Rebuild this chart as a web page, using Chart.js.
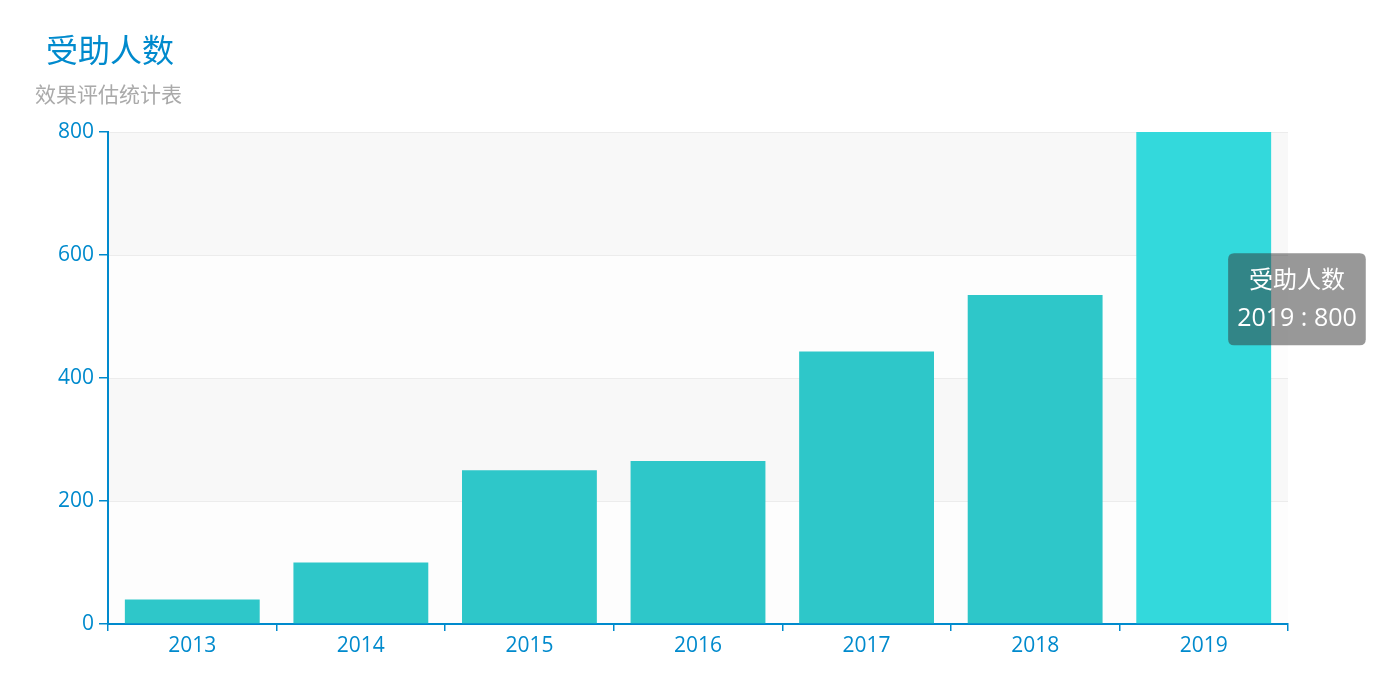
<!DOCTYPE html>
<html>
<head>
<meta charset="utf-8">
<script src="https://cdn.jsdelivr.net/npm/chart.js@4/dist/chart.umd.min.js"></script>
<style>
  html, body { margin: 0; padding: 0; background: #ffffff; }
  #wrap { position: relative; width: 1400px; height: 698px; }
  #title { position: absolute; left: 46px; top: 26px; font: 32px "Noto Sans CJK SC", sans-serif; color: #008acd; line-height: 44px; white-space: nowrap; }
  #subtitle { position: absolute; left: 35px; top: 79px; font: 21px "Noto Sans CJK SC", sans-serif; color: #aaaaaa; line-height: 28px; white-space: nowrap; }
  canvas { position: absolute; left: 0; top: 0; }
</style>
</head>
<body>
<div id="wrap">
  <canvas id="c" width="1400" height="698"></canvas>
  <div id="title">受助人数</div>
  <div id="subtitle">效果评估统计表</div>
</div>
<script>
const seriesName = "受助人数";
const categories = ["2013", "2014", "2015", "2016", "2017", "2018", "2019"];
const values = [40, 100, 250, 265, 443, 535, 800];
const yTicks = [0, 200, 400, 600, 800];
const highlightIndex = 6;

const axisColor = '#008acd';
const fontFamily = '"Open Sans", "Noto Sans CJK SC", sans-serif';

const bandsPlugin = {
  id: 'bands',
  beforeDraw(chart) {
    const { ctx, chartArea, scales } = chart;
    const y = scales.y;
    const colors = ['rgba(253,253,253,1)', 'rgba(248,248,248,1)'];
    ctx.save();
    for (let i = 0; i < yTicks.length - 1; i++) {
      const y0 = y.getPixelForValue(yTicks[i]);
      const y1 = y.getPixelForValue(yTicks[i + 1]);
      ctx.fillStyle = colors[i % 2];
      ctx.fillRect(chartArea.left, y1, chartArea.right - chartArea.left, y0 - y1);
    }
    ctx.strokeStyle = '#ececec';
    ctx.lineWidth = 1;
    for (let i = 1; i < yTicks.length; i++) {
      const py = Math.round(y.getPixelForValue(yTicks[i])) + 0.5;
      ctx.beginPath();
      ctx.moveTo(chartArea.left, py);
      ctx.lineTo(chartArea.right, py);
      ctx.stroke();
    }
    ctx.restore();
  }
};

Chart.registry.getPlugin('tooltip').positioners.fixedSide = function (items) {
  if (!items.length) return false;
  const chart = this.chart;
  const el = items[0].element;
  const yScale = chart.scales.y;
  return { x: el.x + el.width / 2 - 43, y: yScale.getPixelForValue(values[items[0].index] * 0.66) };
};

const chart = new Chart(document.getElementById('c'), {
  type: 'bar',
  data: {
    labels: categories,
    datasets: [{
      label: seriesName,
      data: values,
      backgroundColor: '#2ec7c9',
      hoverBackgroundColor: '#33d9dc',
      hoverBorderColor: '#33d9dc',
      borderWidth: 0,
      categoryPercentage: 0.8,
      barPercentage: 1.0
    }]
  },
  options: {
    responsive: false,
    animation: false,
    events: [],
    layout: { padding: { left: 48, right: 112, top: 132, bottom: 30 } },
    plugins: {
      legend: { display: false },
      title: { display: false },
      tooltip: {
        enabled: true,
        position: 'fixedSide',
        xAlign: 'left',
        yAlign: 'center',
        caretSize: 0,
        caretPadding: 0,
        backgroundColor: 'rgba(50,50,50,0.5)',
        cornerRadius: 6,
        displayColors: false,
        titleAlign: 'center',
        bodyAlign: 'center',
        titleColor: '#ffffff',
        bodyColor: '#ffffff',
        titleFont: { family: fontFamily, size: 24, weight: 'normal', lineHeight: 1.25 },
        bodyFont: { family: fontFamily, size: 25, weight: 'normal', lineHeight: 1.2 },
        titleMarginBottom: 8,
        padding: { top: 13, bottom: 11, left: 9, right: 9 },
        callbacks: {
          title: (items) => items[0].dataset.label,
          label: (item) => item.label + ' : ' + item.parsed.y
        }
      }
    },
    scales: {
      x: {
        grid: { display: true, drawOnChartArea: false, offset: true, color: axisColor, tickColor: axisColor, tickLength: 7, lineWidth: 1.5 },
        border: { display: true, color: axisColor, width: 2 },
        ticks: { color: axisColor, font: { family: fontFamily, size: 21 }, padding: 2, maxRotation: 0 },
        afterFit: (s) => { s.height = 44; }
      },
      y: {
        min: 0,
        max: 800,
        afterBuildTicks: (s) => { s.ticks = yTicks.map(v => ({ value: v })); },
        grid: { display: true, drawOnChartArea: false, color: axisColor, tickColor: axisColor, tickLength: 9, lineWidth: 1.5 },
        border: { display: true, color: axisColor, width: 2 },
        ticks: { color: axisColor, font: { family: fontFamily, size: 21 }, padding: 5 },
        afterFit: (s) => { s.width = 60; }
      }
    }
  },
  plugins: [bandsPlugin]
});

const active = [{ datasetIndex: 0, index: highlightIndex }];
chart.setActiveElements(active);
const el = chart.getDatasetMeta(0).data[highlightIndex];
chart.tooltip.setActiveElements(active, { x: el.x, y: el.y });
chart.update();
</script>
</body>
</html>
